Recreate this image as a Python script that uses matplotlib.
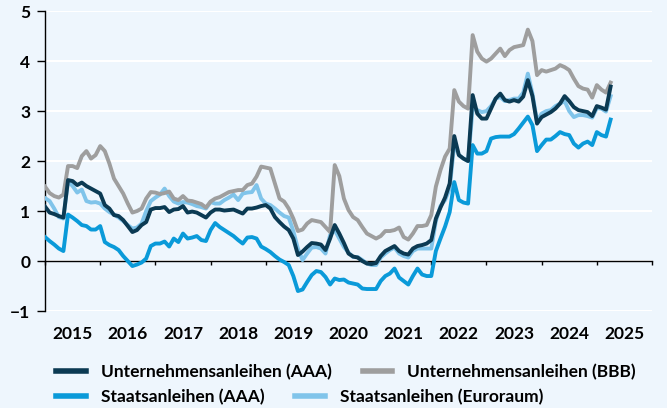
import numpy as np
import pandas as pd
import matplotlib
matplotlib.use('Agg')
import matplotlib.pyplot as plt

plt.rcParams['font.family'] = ['Lato', 'DejaVu Sans']
plt.rcParams['font.weight'] = 'bold'
FS = 12.5

# monthly values, Jan 2015 - Apr 2025 (in %)
months = pd.date_range('2015-01-01', periods=124, freq='MS')

untern_aaa = [1.09, 0.97, 0.94, 0.90, 0.87, 1.62, 1.60, 1.52, 1.57, 1.50, 1.45, 1.40,
              1.35, 1.12, 1.05, 0.92, 0.90, 0.82, 0.70, 0.58, 0.62, 0.72, 0.78, 1.03,
              1.06, 1.06, 1.08, 0.98, 1.03, 1.04, 1.10, 0.97, 0.99, 0.97, 0.92, 0.87,
              0.97, 1.03, 1.03, 1.01, 1.02, 1.03, 0.99, 0.95, 1.05, 1.05, 1.07, 1.10,
              1.12, 1.05, 0.88, 0.78, 0.69, 0.62, 0.45, 0.12, 0.19, 0.28, 0.36, 0.35,
              0.33, 0.22, 0.45, 0.72, 0.55, 0.36, 0.15, 0.09, 0.07, 0.00, -0.05, -0.06,
              -0.04, 0.10, 0.20, 0.25, 0.30, 0.20, 0.15, 0.13, 0.25, 0.30, 0.32, 0.35,
              0.42, 0.85, 1.07, 1.27, 1.55, 2.50, 2.12, 2.05, 2.00, 3.32, 2.95, 2.85,
              2.85, 3.05, 3.25, 3.35, 3.22, 3.19, 3.22, 3.19, 3.29, 3.62, 3.30, 2.75,
              2.88, 2.93, 2.98, 3.05, 3.15, 3.30, 3.20, 3.08, 3.02, 3.00, 2.98, 2.90,
              3.10, 3.07, 3.03, 3.49]

untern_bbb = [1.49, 1.36, 1.30, 1.27, 1.33, 1.90, 1.90, 1.86, 2.10, 2.20, 2.05, 2.12,
              2.30, 2.20, 1.95, 1.65, 1.50, 1.35, 1.15, 0.97, 1.00, 1.05, 1.25, 1.38,
              1.37, 1.34, 1.36, 1.39, 1.25, 1.22, 1.30, 1.21, 1.20, 1.17, 1.14, 1.07,
              1.19, 1.25, 1.28, 1.33, 1.38, 1.40, 1.42, 1.42, 1.52, 1.55, 1.69, 1.89,
              1.87, 1.85, 1.55, 1.25, 1.19, 1.05, 0.85, 0.60, 0.63, 0.75, 0.82, 0.80,
              0.78, 0.68, 0.58, 1.92, 1.70, 1.25, 1.02, 0.88, 0.82, 0.68, 0.55, 0.50,
              0.45, 0.50, 0.60, 0.60, 0.62, 0.67, 0.48, 0.43, 0.55, 0.70, 0.70, 0.72,
              0.92, 1.49, 1.82, 2.09, 2.25, 3.42, 3.19, 3.10, 3.05, 4.52, 4.19, 4.05,
              3.99, 4.05, 4.15, 4.25, 4.10, 4.22, 4.28, 4.30, 4.32, 4.63, 4.40, 3.72,
              3.82, 3.79, 3.82, 3.85, 3.92, 3.88, 3.82, 3.65, 3.50, 3.45, 3.43, 3.27,
              3.52, 3.43, 3.37, 3.57]

staat_aaa = [0.48, 0.40, 0.33, 0.25, 0.20, 0.93, 0.87, 0.80, 0.72, 0.70, 0.63, 0.63,
             0.70, 0.38, 0.32, 0.28, 0.22, 0.10, 0.00, -0.10, -0.07, -0.03, 0.05, 0.30,
             0.35, 0.35, 0.39, 0.29, 0.45, 0.38, 0.55, 0.45, 0.47, 0.50, 0.42, 0.40,
             0.62, 0.76, 0.68, 0.62, 0.56, 0.50, 0.42, 0.35, 0.47, 0.48, 0.45, 0.29,
             0.24, 0.18, 0.10, 0.03, -0.02, -0.08, -0.30, -0.60, -0.57, -0.42, -0.28, -0.20,
             -0.22, -0.32, -0.47, -0.35, -0.38, -0.37, -0.43, -0.45, -0.47, -0.55, -0.56, -0.56,
             -0.56, -0.40, -0.30, -0.25, -0.15, -0.33, -0.40, -0.47, -0.30, -0.15, -0.27, -0.30,
             -0.30, 0.20, 0.45, 0.69, 0.98, 1.58, 1.22, 1.17, 1.15, 2.32, 2.15, 2.15,
             2.20, 2.45, 2.48, 2.49, 2.49, 2.49, 2.54, 2.65, 2.77, 2.89, 2.72, 2.20,
             2.32, 2.43, 2.43, 2.50, 2.58, 2.54, 2.52, 2.35, 2.27, 2.35, 2.39, 2.32,
             2.58, 2.52, 2.49, 2.83]

staat_euro = [1.26, 1.20, 1.05, 0.88, 0.85, 1.60, 1.50, 1.37, 1.43, 1.20, 1.17, 1.18,
              1.15, 1.05, 0.98, 0.93, 0.87, 0.80, 0.72, 0.65, 0.67, 0.75, 1.00, 1.20,
              1.27, 1.33, 1.45, 1.30, 1.19, 1.15, 1.18, 1.17, 1.14, 1.10, 1.08, 1.05,
              1.18, 1.15, 1.15, 1.22, 1.27, 1.33, 1.22, 1.35, 1.37, 1.38, 1.52, 1.25,
              1.15, 1.12, 1.05, 0.97, 0.90, 0.87, 0.60, 0.25, 0.02, 0.15, 0.27, 0.28,
              0.25, 0.15, 0.52, 0.62, 0.45, 0.28, 0.17, 0.08, 0.08, 0.02, -0.05, -0.08,
              -0.08, 0.07, 0.15, 0.22, 0.27, 0.15, 0.10, 0.07, 0.20, 0.25, 0.25, 0.25,
              0.25, 0.80, 1.10, 1.22, 1.45, 2.35, 2.12, 2.05, 2.00, 3.05, 3.02, 2.98,
              3.00, 3.10, 3.25, 3.28, 3.20, 3.22, 3.25, 3.25, 3.37, 3.75, 3.35, 2.80,
              2.95, 3.00, 3.02, 3.10, 3.15, 3.20, 3.00, 2.88, 2.92, 2.92, 2.90, 2.87,
              3.06, 3.05, 2.99, 3.30]

year_labels = ['2015', '2016', '2017', '2018', '2019', '2020',
               '2021', '2022', '2023', '2024', '2025']

bg = '#eef6fd'
c_navy = '#0b3a53'
c_gray = '#9e9e9e'
c_blue = '#0a9ad9'
c_light = '#80c4ea'

x = months.year + (months.month - 1) / 12.0

fig = plt.figure(figsize=(6.67, 4.08), dpi=100, facecolor=bg)
ax = fig.add_axes([0.0675, 0.2377, 0.910, 0.735])
ax.set_facecolor(bg)

lw = 2.8
ax.plot(x, staat_euro, color=c_light, lw=lw, label='Staatsanleihen (Euroraum)', zorder=3)
ax.plot(x, staat_aaa, color=c_blue, lw=lw, label='Staatsanleihen (AAA)', zorder=4)
ax.plot(x, untern_bbb, color=c_gray, lw=lw, label='Unternehmensanleihen (BBB)', zorder=4)
ax.plot(x, untern_aaa, color=c_navy, lw=lw, label='Unternehmensanleihen (AAA)', zorder=5)

ax.set_xlim(2015, 2026)
ax.set_ylim(-1, 5)
ax.set_yticks(range(-1, 6))
ax.yaxis.grid(True, color='white', lw=1.5)
ax.set_axisbelow(True)

for s in ['top', 'right']:
    ax.spines[s].set_visible(False)
ax.spines['bottom'].set_position(('data', 0))
ax.spines['bottom'].set_zorder(2)
ax.spines['left'].set_linewidth(1.0)
ax.spines['bottom'].set_linewidth(1.0)

ax.set_xticks(range(2015, 2027))
ax.set_xticklabels([])
ax.tick_params(axis='x', length=3, width=1, direction='out')
ax.tick_params(axis='y', length=5.5, width=1, labelsize=FS, pad=5)
ax.set_yticklabels(['\u22121', '0', '1', '2', '3', '4', '5'])

sec = ax.secondary_xaxis(0)
sec.set_xticks([int(y) + 0.5 for y in year_labels])
sec.set_xticklabels(year_labels)
sec.tick_params(length=0, labelsize=FS, pad=11)
sec.spines['bottom'].set_visible(False)

h = {l.get_label(): l for l in ax.get_lines()}
leg_kw = dict(frameon=False, ncol=2, fontsize=FS, handlelength=1.72,
              handletextpad=0.86, columnspacing=1.78, borderaxespad=0, borderpad=0)
lg1 = fig.legend([h['Unternehmensanleihen (AAA)'], h['Unternehmensanleihen (BBB)']],
                 ['Unternehmensanleihen (AAA)', 'Unternehmensanleihen (BBB)'],
                 loc='center left', bbox_to_anchor=(0.084, 0.089), **leg_kw)
lg2 = fig.legend([h['Staatsanleihen (AAA)'], h['Staatsanleihen (Euroraum)']],
                 ['Staatsanleihen (AAA)', 'Staatsanleihen (Euroraum)'],
                 loc='center left', bbox_to_anchor=(0.084, 0.027), **leg_kw)
for lg in (lg1, lg2):
    for ln in lg.get_lines():
        ln.set_linewidth(4)

fig.savefig('out.png', dpi=100, facecolor=bg)
